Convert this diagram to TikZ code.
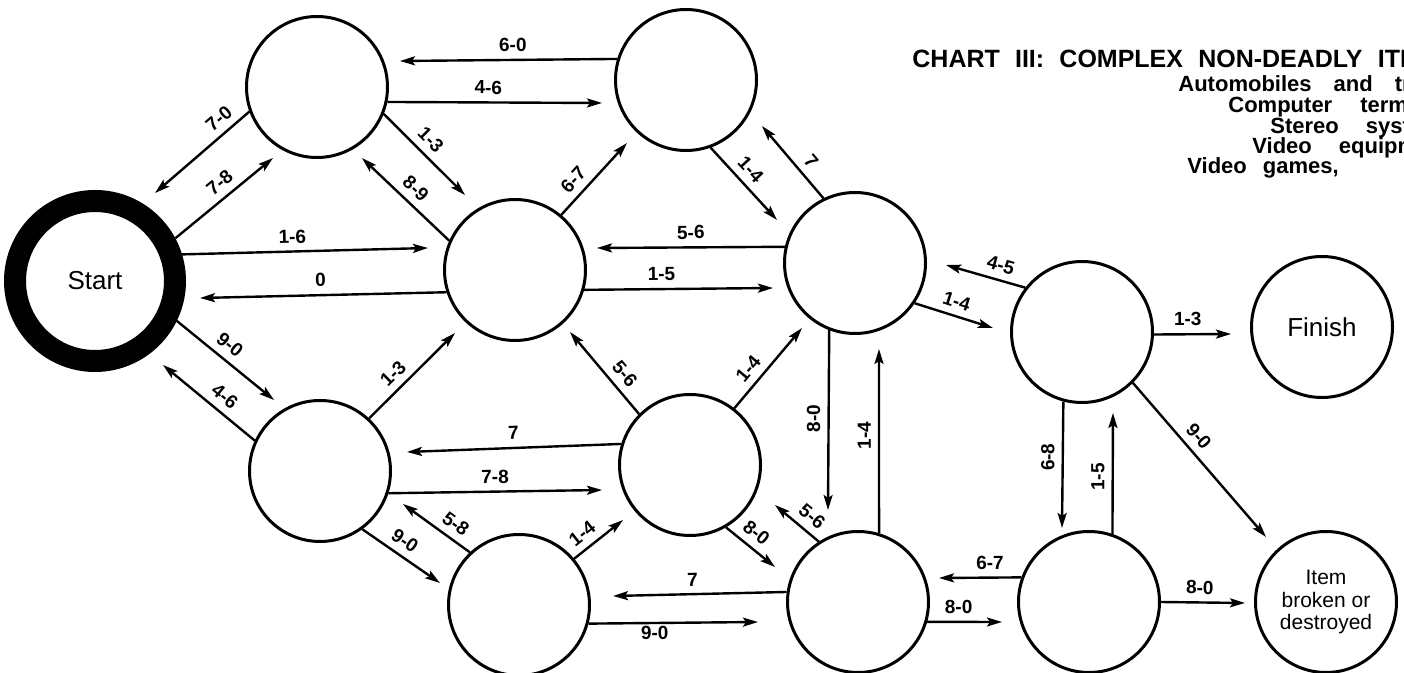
\documentclass[tikz,border=0pt]{standalone}
\usepackage{fontspec}
\setmainfont{Liberation Sans}
\usetikzlibrary{arrows.meta,calc}

\newcommand\lblfont{\fontsize{9.5}{10}\selectfont\bfseries}
\newcommand\titlefont{\fontsize{12.5}{13}\selectfont\bfseries\spaceskip=7.6pt\relax}
\newcommand\subfont{\fontsize{11}{12}\selectfont\bfseries}

\begin{document}
\begin{tikzpicture}[x=0.5pt,y=-0.5pt,
    state/.style={circle,draw,line width=1.5pt,minimum size=70.5pt,inner sep=0pt},
    move/.style={-{Stealth[length=7.5pt,width=4.5pt,inset=1.5pt]},line width=1.2pt},
    lbl/.style={font=\lblfont,sloped,above=2.5pt,inner sep=1pt},
    vlbl/.style={font=\lblfont,rotate=90,above=2.5pt,inner sep=1pt},
    subline/.style={font=\subfont,anchor=base west,inner sep=0pt}]
    \useasboundingbox (0,0) rectangle (1404,673);
    \clip (0,0) rectangle (1404,673);

    % title block, cut at the right edge
    \node[font=\titlefont,anchor=base west,inner sep=0pt] (title) at (912,68) {CHART III: COMPLEX NON-DEADLY ITE};
    \node[subline] (line1) at (1178,92) {Automobiles\hspace{11pt}and\hspace{11pt}tr};
    \node[subline] (line2) at (1228,113) {Computer\hspace{14pt}term};
    \node[subline] (line3) at (1270,134) {Stereo\hspace{13.5pt}syst};
    \node[subline] (line4) at (1252,154) {Video\hspace{13.5pt}equipm};
    \node[subline] (line5) at (1187,174) {Video\hspace{8pt}games,};

    % states
    \node[circle,draw,line width=11pt,minimum size=80pt,font=\fontsize{13}{15}\selectfont] (start) at (95,281) {Start};
    \node[state] (top1) at (317,87) {};
    \node[state] (top2) at (686,80) {};
    \node[state] (mid1) at (515,270) {};
    \node[state] (mid2) at (855,263) {};
    \node[state] (mid3) at (1082,332) {};
    \node[state] (low1) at (320,471) {};
    \node[state] (low2) at (690,465) {};
    \node[state] (bot1) at (519,605) {};
    \node[state] (bot2) at (858,602) {};
    \node[state] (bot3) at (1089,602) {};
    \node[state,font=\fontsize{13}{15}\selectfont] (finish) at (1322,327) {Finish};
    \node[state,align=center,font=\fontsize{10.5}{11.3}\selectfont] (broken) at (1326,602) {Item\\broken or\\destroyed};

    % moves
    \draw[move] (top1.-160) -- ($(start)+(60,-88)$) node[lbl,pos=.22] {7-0};
    \draw[move] (start.28) -- ($(top1)+(-44,71)$) node[lbl,pos=.55] {7-8};
    \draw[move] (top2.163) -- ($(top1)+(83,-26)$) node[lbl,pos=.48] {6-0};
    \draw[move] (top1.-12) -- ($(top2)+(-84,23)$) node[lbl,pos=.47] {4-6};
    \draw[move] (top1.-22) -- ($(mid1)+(-50,-75)$) node[lbl,pos=.45] {1-3};
    \draw[move] (mid1.156) -- ($(top1)+(45,71)$) node[lbl,pos=.5] {8-9};
    \draw[move] (start.17) -- ($(mid1)+(-87,-22)$) node[lbl,pos=.45] {1-6};
    \draw[move] (mid1.-162) -- ($(start)+(105,17)$) node[lbl,pos=.51] {0};
    \draw[move] (mid1.50) -- ($(top2)+(-59,63)$) node[lbl,pos=.35] {6-7};
    \draw[move] (top2.-70) -- ($(mid2)+(-78,-43)$) node[lbl,pos=.44] {1-4};
    \draw[move] (mid2.116) -- ($(top2)+(76,46)$) node[lbl,pos=.38] {7};
    \draw[move] (mid2.167) -- ($(mid1)+(82,-22)$) node[lbl,pos=.5] {5-6};
    \draw[move] (mid1.-16) -- ($(mid2)+(-82,25)$) node[lbl,pos=.41] {1-5};
    \draw[move] (start.-26) -- ($(low1)+(-46,-71)$) node[lbl,pos=.45] {9-0};
    \draw[move] (low1.155) -- ($(start)+(68,84)$) node[lbl,pos=.43] {4-6};
    \draw[move] (low1.47) -- ($(mid1)+(-60,63)$) node[lbl,pos=.4] {1-3};
    \draw[move] (low2.163) -- ($(low1)+(87,-19)$) node[lbl,pos=.5] {7};
    \draw[move] (low1.-18) -- ($(low2)+(-88,25)$) node[lbl,pos=.5] {7-8};
    \draw[move] (low1.-54) -- ($(bot1)+(-79,-22)$) node[lbl,pos=.44] {9-0};
    \draw[move] (bot1.133) -- ($(low1)+(83,33)$) node[lbl,pos=.34] {5-8};
    \draw[move] (low2.135) -- ($(mid1)+(55,62)$) node[lbl,pos=.37] {5-6};
    \draw[move] (low2.52) -- ($(mid2)+(-53,65)$) node[lbl,pos=.37] {1-4};
    \draw[move] (bot1.40) -- ($(low2)+(-67,55)$) node[lbl,pos=.35] {1-4};
    \draw[move] (low2.-60) -- ($(bot2)+(-83,-35)$) node[lbl,pos=.43] {8-0};
    \draw[move] (bot2.172) -- ($(bot1)+(94,-9)$) node[lbl,pos=.54] {7};
    \draw[move] (bot1.-15) -- ($(bot2)+(-100,20)$) node[lbl,below=2.5pt,pos=.39] {9-0};
    \draw[move] (mid2.-111) -- ($(bot2)+(-30,-92)$) node[vlbl,pos=.49] {8-0};
    \draw[move] (bot2.73) -- ($(mid2)+(24,86)$) node[vlbl,pos=.53] {1-4};
    \draw[move] (bot2.123) -- ($(low2)+(85,40)$) node[lbl,pos=.37] {5-6};
    \draw[move] (mid3.142) -- ($(mid2)+(91,2)$) node[lbl,pos=.36] {4-5};
    \draw[move] (mid2.-34) -- ($(mid3)+(-89,-4)$) node[lbl,pos=.48] {1-4};
    \draw[move] (mid3.-2) -- ($(finish)+(-91,7)$) node[lbl,pos=.44] {1-3};
    \draw[move] (mid3.-45) -- ($(broken)+(-60,-65)$) node[lbl,pos=.41] {9-0};
    \draw[move] (mid3.-105) -- ($(bot3)+(-27,-74)$) node[vlbl,pos=.44] {6-8};
    \draw[move] (bot3.71) -- ($(mid3)+(31,81)$) node[vlbl,pos=.47] {1-5};
    \draw[move] (bot3.160) -- ($(bot2)+(81,-24)$) node[lbl,pos=.38] {6-7};
    \draw[move] (bot2.-16) -- ($(bot3)+(-87,20)$) node[lbl,pos=.42] {8-0};
    \draw[move] (bot3.0) -- ($(broken)+(-81,1)$) node[lbl,pos=.46] {8-0};
\end{tikzpicture}
\end{document}
